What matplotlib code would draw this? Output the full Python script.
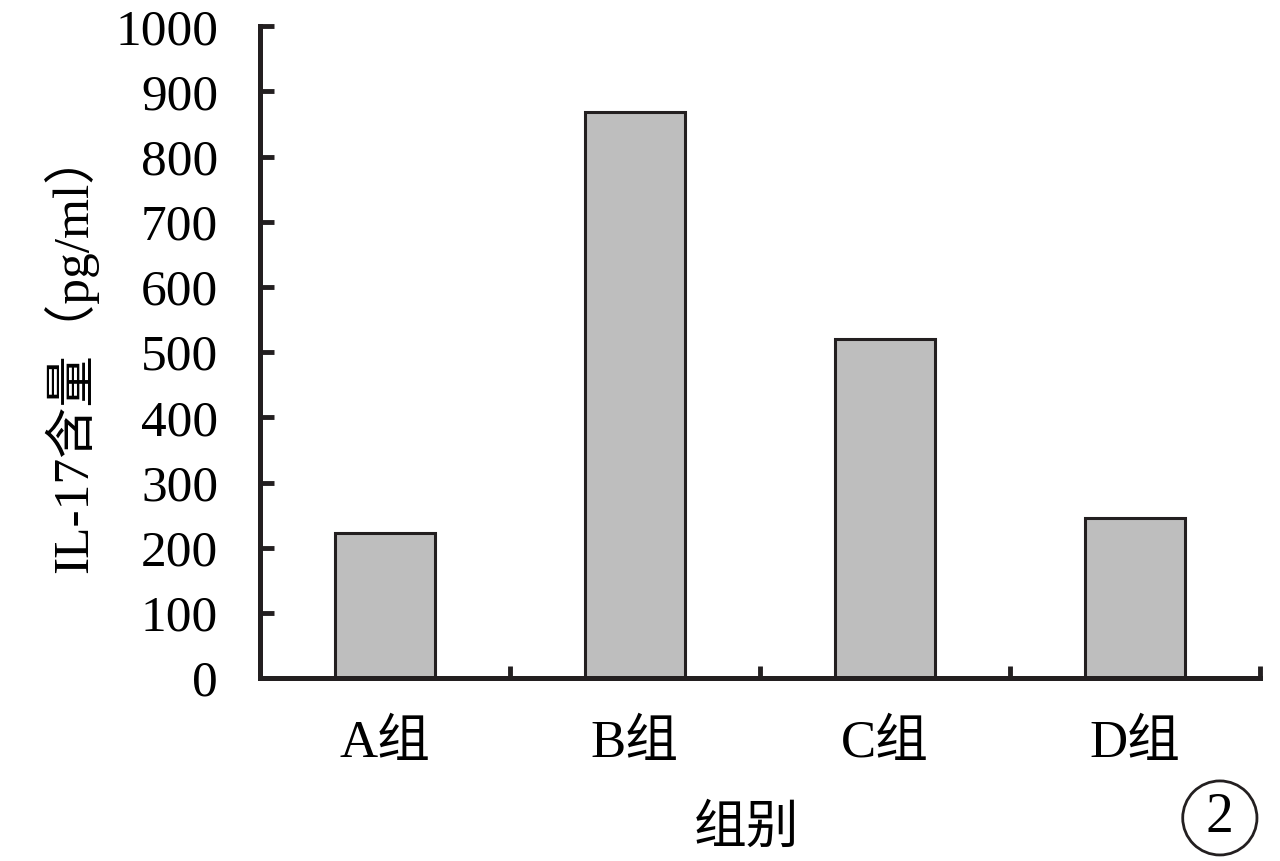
import matplotlib.pyplot as plt
from matplotlib.patches import Ellipse

groups = ["A组", "B组", "C组", "D组"]
il17 = [223, 868, 520, 245]
y_ticks = list(range(0, 1001, 100))

fonts = ["Liberation Serif", "Noto Sans CJK SC"]
plt.rcParams["font.family"] = fonts

fig = plt.figure(figsize=(12.8, 8.61), dpi=100)
ax = fig.add_axes([0.203, 0.2125, 0.781, 0.757])

x = list(range(len(groups)))
ax.bar(x, il17, width=0.4, color="#bebebe", edgecolor="#231f20", linewidth=2.2)

ax.set_xlim(-0.5, 3.5)
ax.set_ylim(0, 1000)
ax.set_yticks(y_ticks)
ax.set_yticklabels([str(t) for t in y_ticks], fontsize=37)
ax.set_xticks(x)
ax.set_xticklabels(groups, fontsize=38)
ax.set_xticks([0.5, 1.5, 2.5, 3.5], minor=True)

ax.tick_params(axis="y", direction="in", length=10, width=3.5, pad=30, color="#231f20")
ax.tick_params(axis="x", which="major", length=0, pad=30)
ax.tick_params(axis="x", which="minor", direction="in", length=9, width=3.5, color="#231f20")

for side in ["top", "right"]:
    ax.spines[side].set_visible(False)
for side in ["left", "bottom"]:
    ax.spines[side].set_linewidth(3.6)
    ax.spines[side].set_color("#231f20")

ax.set_ylabel("IL-17含量（pg/ml）", fontsize=37, labelpad=12)
fig.text(0.583, 0.036, "组别", fontsize=38, ha="center", va="center")

circ = Ellipse((0.953, 0.05), 0.058, 0.086, transform=fig.transFigure,
               fill=False, edgecolor="#231f20", linewidth=2)
fig.patches.append(circ)
fig.text(0.953, 0.05, "2", fontsize=40, ha="center", va="center")

fig.savefig("out.png", dpi=100)
